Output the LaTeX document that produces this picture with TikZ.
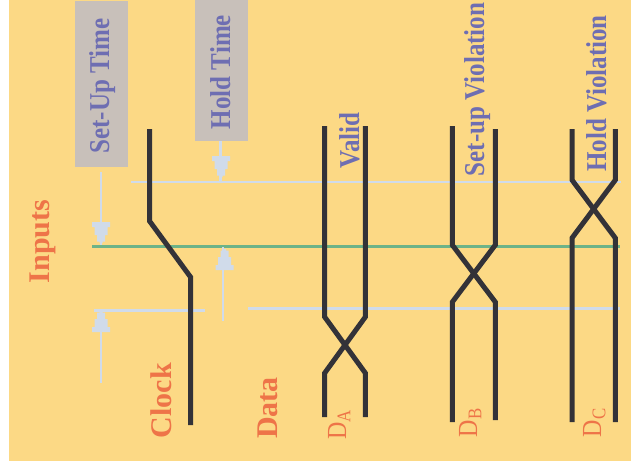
\documentclass[tikz,border=0pt]{standalone}
\usepackage{fontspec}
\setmainfont{Liberation Serif}
\usepackage{graphicx}
\definecolor{bgc}{HTML}{FCD985}
\definecolor{orc}{HTML}{EE7448}
\definecolor{blc}{HTML}{6E6EB2}
\definecolor{boxc}{HTML}{C8C0BA}
\definecolor{ltc}{HTML}{D0DBEA}
\definecolor{grc}{HTML}{6DB388}
\definecolor{dkc}{HTML}{333238}
\tikzset{
  lightline/.style={ltc, line width=2.6pt},
  greenline/.style={grc, line width=3pt},
  sig/.style={dkc, line width=5pt},
  dimline/.style={ltc, line width=2.5pt},
  bluetext/.style={blc, rotate=90, anchor=base, inner sep=0pt, font=\fontsize{25}{30}\selectfont\bfseries},
  orangetext/.style={orc, rotate=90, anchor=base, inner sep=0pt, font=\fontsize{30}{36}\selectfont\bfseries},
  dlabel/.style={orc, rotate=90, anchor=base, inner sep=0pt, font=\fontsize{24}{28}\selectfont},
  headdown/.pic={\fill[ltc] (-9,-21) -- (9,-21) -- (9,-16) -- (6.5,-16) -- (6.5,-8) -- (4,-8) -- (4,-1.5) -- (1.5,-1.5) -- (1.5,0) -- (-1.5,0) -- (-1.5,-1.5) -- (-4,-1.5) -- (-4,-8) -- (-6.5,-8) -- (-6.5,-16) -- (-9,-16) -- cycle;}
}
\begin{document}
\begin{tikzpicture}[x=1pt,y=-1pt]
\useasboundingbox (0,0) rectangle (631,471);
\fill[white] (0,0) rectangle (631,471);
\fill[bgc] (9,0) rectangle (631,461);
% boxes
\fill[boxc] (75,1) rectangle (128,167);
\fill[boxc] (195,0) rectangle (248,141);
% reference lines
\coordinate (topL) at (131,182);
\coordinate (topR) at (621,182);
\coordinate (grL) at (92,246);
\coordinate (grR) at (620,246);
\coordinate (botL1) at (94,310.5);
\coordinate (botR1) at (205,310.5);
\coordinate (botL2) at (248,308.5);
\coordinate (botR2) at (620,308.5);
\draw[lightline] (topL) -- (topR);
\draw[greenline] (grL) -- (grR);
\draw[lightline] (botL1) -- (botR1);
\draw[lightline] (botL2) -- (botR2);
% dimension arrows
\coordinate (su1s) at (101,172);
\coordinate (su1e) at (101,245);
\draw[dimline] (su1s) -- (su1e);
\pic at (101,243) {headdown};
\coordinate (su2s) at (101,383);
\coordinate (su2e) at (101,311);
\draw[dimline] (su2s) -- (su2e);
\pic[yscale=-1] at (101,311) {headdown};
\coordinate (ho1s) at (220.5,141);
\coordinate (ho1e) at (220.5,182);
\draw[dimline] (ho1s) -- (ho1e);
\pic at (221,177) {headdown};
\coordinate (ho2s) at (223,321);
\coordinate (ho2e) at (223,247);
\draw[dimline] (ho2s) -- (ho2e);
\pic[yscale=-1] at (224.5,249) {headdown};
% clock
\draw[sig] (149.5,129) -- (149.5,221) -- (190.5,277) -- (190.5,425);
% D_A
\draw[sig] (324.7,126) -- (324.7,317) -- (365.3,373) -- (365.3,417);
\draw[sig] (365.3,126) -- (365.3,317) -- (324.7,373) -- (324.7,417);
% D_B
\draw[sig] (452.3,126) -- (452.3,245) -- (495.3,302) -- (495.3,420);
\draw[sig] (495.3,129) -- (495.3,245) -- (452.3,302) -- (452.3,422);
% D_C
\draw[sig] (572,129) -- (572,180) -- (615.3,238) -- (615.3,422);
\draw[sig] (615.3,129) -- (615.3,180) -- (572,238) -- (572,422);
% texts
\node[bluetext] (tsu) at (109,86) {\scalebox{1}[1.15]{Set-Up Time}};
\node[bluetext] (tho) at (230,72) {\scalebox{1}[1.15]{Hold Time}};
\node[bluetext] (tva) at (359,140.5) {\scalebox{1}[1.15]{Valid}};
\node[bluetext] (tsv) at (484,89.5) {\scalebox{1}[1.15]{Set-up Violation}};
\node[bluetext] (thv) at (606,93.5) {\scalebox{1}[1.15]{Hold Violation}};
\node[orangetext] (tin) at (49,241.5) {Inputs};
\node[orangetext] (tcl) at (171,400.5) {Clock};
\node[orangetext] (tda) at (277,408) {Data};
\node[dlabel] (lda) at (346,424.5) {\scalebox{1}[1.15]{D\textsubscript{A}}};
\node[dlabel] (ldb) at (477,422.5) {\scalebox{1}[1.15]{D\textsubscript{B}}};
\node[dlabel] (ldc) at (601,422.5) {\scalebox{1}[1.15]{D\textsubscript{C}}};
\end{tikzpicture}
\end{document}
